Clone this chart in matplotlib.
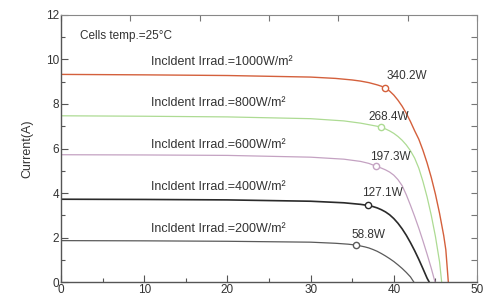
import matplotlib
matplotlib.use('Agg')
import matplotlib.pyplot as plt
import numpy as np

plt.rcParams['font.family'] = ['Liberation Sans', 'DejaVu Sans']

# I-V curves (voltage V, current A)
v_1000 = [0, 10, 20, 30, 33, 35, 36, 37, 38, 38.5, 38.9, 39.5, 40, 40.5, 41, 41.5, 42, 42.5,
          43, 43.5, 44, 44.5, 45, 45.5, 46, 46.25, 46.55]
i_1000 = [9.33, 9.31, 9.28, 9.21, 9.15, 9.08, 9.03, 8.96, 8.86, 8.8, 8.73, 8.58, 8.4, 8.17,
          7.9, 7.58, 7.21, 6.8, 6.42, 5.92, 5.35, 4.7, 3.95, 3.08, 2.08, 1.45, 0]

v_800 = [0, 10, 20, 30, 34, 36, 37, 38, 38.5, 39, 39.5, 40, 40.5, 41, 41.5, 42, 42.5,
         43, 43.5, 44, 44.5, 45, 45.5, 45.75]
i_800 = [7.47, 7.45, 7.42, 7.34, 7.24, 7.14, 7.07, 7.0, 6.95, 6.88, 6.79, 6.68, 6.54,
         6.37, 6.16, 5.9, 5.57, 5.12, 4.52, 3.82, 3.0, 2.05, 0.9, 0]

v_600 = [0, 10, 20, 30, 34, 36, 37, 37.9, 38.5, 39, 39.5, 40, 40.5, 41, 41.5, 42, 42.5,
         43, 43.5, 44, 44.5, 44.95]
i_600 = [5.72, 5.71, 5.69, 5.61, 5.52, 5.42, 5.33, 5.2, 5.12, 5.04, 4.94, 4.8, 4.6, 4.33,
         3.92, 3.45, 2.95, 2.42, 1.85, 1.25, 0.62, 0]

v_400 = [0, 10, 20, 30, 34, 36, 36.9, 37.5, 38, 38.5, 39, 39.5, 40, 40.5, 41, 41.5, 42,
         42.5, 43, 43.5, 44, 44.25]
i_400 = [3.72, 3.71, 3.69, 3.63, 3.56, 3.49, 3.44, 3.39, 3.33, 3.25, 3.15, 3.02, 2.85,
         2.64, 2.39, 2.1, 1.77, 1.41, 1.02, 0.6, 0.17, 0]

v_200 = [0, 10, 20, 30, 33, 34.5, 35.45, 36, 36.5, 37, 37.5, 38, 38.5, 39, 39.5, 40,
         40.5, 41, 41.5, 42, 42.4]
i_200 = [1.86, 1.85, 1.83, 1.79, 1.74, 1.7, 1.66, 1.62, 1.58, 1.53, 1.46, 1.38, 1.28,
         1.17, 1.05, 0.92, 0.77, 0.61, 0.43, 0.23, 0]

# max power points
mpp_v = [38.9, 38.5, 37.9, 36.9, 35.45]
mpp_i = [8.73, 6.95, 5.2, 3.44, 1.66]
mpp_labels = ['340.2W', '268.4W', '197.3W', '127.1W', '58.8W']
mpp_label_x = [39.1, 37.0, 37.1, 36.15, 34.9]
mpp_label_y = [9.25, 7.41, 5.64, 3.99, 2.11]

irrad_labels = ['Incldent Irrad.=1000W/m²', 'Incldent Irrad.=800W/m²',
                'Incldent Irrad.=600W/m²', 'Incldent Irrad.=400W/m²',
                'Incldent Irrad.=200W/m²']
irrad_label_y = [9.91, 8.04, 6.16, 4.29, 2.39]

COLORS = ['#d4603c', '#addb93', '#c4a2c2', '#2a2a2a', '#5a5a5a']
WIDTHS = [1.0, 0.9, 0.9, 1.2, 0.9]
TEXT = '#333333'

fig = plt.figure(figsize=(4.88, 2.97), dpi=100)
ax = fig.add_axes([0.125, 0.0505, 0.8525, 0.899])

curves = [(v_1000, i_1000), (v_800, i_800), (v_600, i_600), (v_400, i_400), (v_200, i_200)]
for k, (v, i) in enumerate(curves):
    ax.plot(v, i, color=COLORS[k], lw=WIDTHS[k], solid_joinstyle='round')
    ax.plot(mpp_v[k], mpp_i[k], 'o', ms=4.5, mfc='white', mec=COLORS[k], mew=1.0)
    ax.text(mpp_label_x[k], mpp_label_y[k], mpp_labels[k], fontsize=8.5,
            color=TEXT, va='center', ha='left')
    ax.text(10.8, irrad_label_y[k], irrad_labels[k], fontsize=9,
            color=TEXT, va='center', ha='left')

ax.text(2.3, 11.07, 'Cells temp.=25°C', fontsize=8.5, color=TEXT, va='center', ha='left')

ax.set_xlim(0, 50)
ax.set_ylim(0, 12)
ax.set_xticks([0, 10, 20, 30, 40, 50])
ax.set_xticks([5, 15, 25, 35, 45], minor=True)
ax.set_yticks([0, 2, 4, 6, 8, 10, 12])
ax.set_yticks([1, 3, 5, 7, 9, 11], minor=True)
ax.tick_params(which='both', direction='in', colors='#555555', labelcolor=TEXT,
               labelsize=8.5, pad=1.5)
ax.tick_params(which='major', length=5, width=0.8)
ax.tick_params(which='minor', length=3, width=0.8)
ax.set_ylabel('Current(A)', fontsize=9, color=TEXT, labelpad=9)

# top and right ticks
top = ax.secondary_xaxis('top')
top.set_xticks(np.linspace(0, 50, 7))
top.tick_params(direction='in', length=4, width=0.8, colors='#777777', labeltop=False)
right = ax.secondary_yaxis('right')
right.set_yticks(range(0, 13))
right.tick_params(direction='in', length=4, width=0.8, colors='#777777', labelright=False)

for s in ('left', 'bottom'):
    ax.spines[s].set_color('#555555')
    ax.spines[s].set_linewidth(1.0)
for s in ('top', 'right'):
    ax.spines[s].set_color('#888888')
    ax.spines[s].set_linewidth(0.8)
top.spines['top'].set_visible(False)
right.spines['right'].set_visible(False)

fig.savefig('out.png', dpi=100)
